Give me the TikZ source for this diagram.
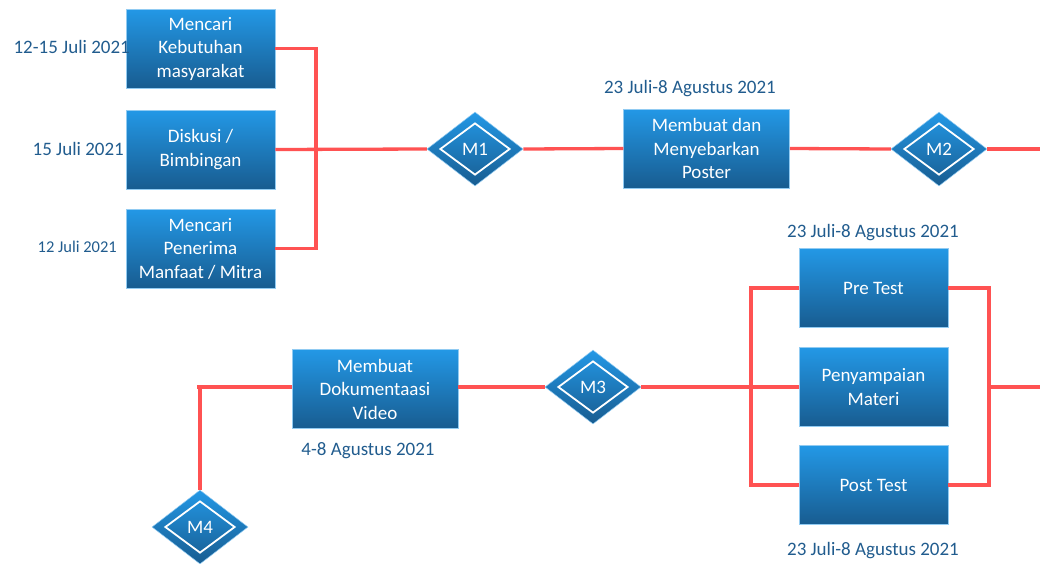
\documentclass[tikz,border=0pt]{standalone}
\usepackage{fontspec}
\setmainfont{Carlito}
\usepackage{tikz}
\usetikzlibrary{shapes.geometric}
\definecolor{boxtop}{RGB}{35,152,230}
\definecolor{boxbot}{RGB}{24,92,144}
\definecolor{linkred}{RGB}{255,82,82}
\definecolor{datetext}{RGB}{33,92,142}

\begin{document}
\begin{tikzpicture}[
x=1pt,y=-1pt,
MyBoxes/.style={rectangle,top color=boxtop,bottom color=boxbot,draw=boxtop!50!white,line width=0.5pt,text=white,align=center,minimum width=149pt,minimum height=79pt,inner sep=2pt,font=\fontsize{19}{23.5}\selectfont},
WideBoxes/.style={MyBoxes,minimum width=166pt},
MyDiamonds/.style={diamond,top color=boxtop,bottom color=boxbot,draw=boxtop!50!white,line width=0.5pt,minimum width=96pt,minimum height=74pt,inner sep=0pt},
InnerDiamonds/.style={diamond,draw=white,line width=1.8pt,text=white,minimum width=70pt,minimum height=52pt,inner sep=0pt,font=\fontsize{19}{23}\selectfont},
Links/.style={draw=linkred,line width=3.3pt},
Dates/.style={text=datetext,inner sep=0pt,font=\fontsize{19}{23}\selectfont},
SmallDates/.style={Dates,font=\fontsize{16.5}{19}\selectfont}
]
\useasboundingbox (0,0) rectangle (1040,563);

% first row
\node[MyBoxes] (Kebutuhan) at (200.5,48.5) {Mencari\\Kebutuhan\\masyarakat};
\node[MyBoxes] (Diskusi) at (200.5,149.5) {Diskusi /\\Bimbingan};
\node[MyBoxes] (Penerima) at (200.5,248.5) {Mencari\\Penerima\\Manfaat / Mitra};

\node[Dates,anchor=east] (dKebutuhan) at (130,47) {12-15 Juli 2021};
\node[Dates,anchor=east] (dDiskusi) at (124,149) {15 Juli 2021};
\node[SmallDates,anchor=east] (dPenerima) at (117,247) {12 Juli 2021};

\node[MyDiamonds] (M1) at (475,149) {};
\node[InnerDiamonds] (M1in) at (M1) {M1};

\node[WideBoxes] (Poster) at (706.5,148.5) {Membuat dan\\Menyebarkan\\Poster};
\node[Dates] (dPoster) at (690,89) {23 Juli-8 Agustus 2021};

\node[MyDiamonds] (M2) at (939,149) {};
\node[InnerDiamonds] (M2in) at (M2) {M2};

\coordinate (J1) at (316,149);
\coordinate (E1) at (1040,149);

\draw[Links] (Kebutuhan.east) -| (J1) |- (Penerima.east);
\draw[Links] (Diskusi.east) -- (M1.west);
\draw[Links] (M1.east) -- (Poster.west);
\draw[Links] (Poster.east) -- (M2.west);
\draw[Links] (M2.east) -- (E1);

% second row
\node[MyBoxes] (PreTest) at (873.5,288) {Pre Test};
\node[MyBoxes] (Materi) at (873.5,387) {Penyampaian\\Materi};
\node[MyBoxes] (PostTest) at (873.5,485) {Post Test};

\node[Dates] (dPreTest) at (873,233) {23 Juli-8 Agustus 2021};
\node[Dates] (dPostTest) at (873,551) {23 Juli-8 Agustus 2021};

\node[MyDiamonds] (M3) at (593,387) {};
\node[InnerDiamonds] (M3in) at (M3) {M3};

\node[WideBoxes] (Video) at (375,389) {Membuat\\Dokumentaasi\\Video};
\node[Dates] (dVideo) at (368,451) {4-8 Agustus 2021};

\node[MyDiamonds] (M4) at (200,527) {};
\node[InnerDiamonds] (M4in) at (M4) {M4};

\coordinate (J2) at (751,387);
\coordinate (J3) at (989,387);
\coordinate (E2) at (1040,387);
\coordinate (T4) at (197,387);

\draw[Links] (PreTest.west) -| (J2) |- (PostTest.west);
\draw[Links] (M3.east) -- (Materi.west);
\draw[Links] (PreTest.east) -| (J3) |- (PostTest.east);
\draw[Links] (J3) -- (E2);
\draw[Links] (M3.west) -- (Video.east |- M3);
\draw[Links] (Video.west |- T4) -- (T4);
\draw[Links] (T4 -| M4.north) -- (M4.north);

\end{tikzpicture}
\end{document}
